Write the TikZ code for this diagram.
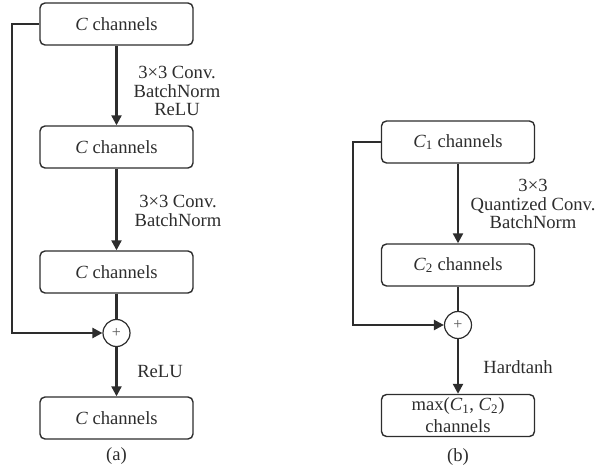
\documentclass[tikz,border=0pt]{standalone}
\usepackage{fontspec}
\setmainfont{Liberation Serif}
\usetikzlibrary{arrows.meta}
\definecolor{ink}{RGB}{45,45,45}
\begin{document}
\begin{tikzpicture}[x=1pt,y=-1pt,
  txt/.style={font=\fontsize{18.6}{18.5}\selectfont, text=ink, inner sep=0pt, align=center},
  chbox/.style={txt, draw=ink, line width=1.4pt, rounded corners=5pt,
    minimum width=153pt, minimum height=42pt},
  sumnode/.style={circle, draw=ink, line width=1.2pt, minimum size=27pt, inner sep=0pt,
    font=\fontsize{16}{16}\selectfont, text=ink!80},
  flow/.style={draw=ink, line width=2.3pt, -{Triangle[length=10pt,width=10pt]}},
  link/.style={draw=ink, line width=2.3pt}
]
\useasboundingbox (0,0) rectangle (597,473);

% ---------- (a) residual block ----------
\node[chbox] (a1) at (116.5,24)  {\textit{C} channels};
\node[chbox] (a2) at (116.5,147) {\textit{C} channels};
\node[chbox] (a3) at (116.5,272) {\textit{C} channels};
\node[sumnode] (pa) at (116.5,333) {+};
\node[chbox] (a4) at (116.5,418) {\textit{C} channels};
\coordinate (ka) at (12,24);

\draw[flow] (a1) -- (a2);
\draw[flow] (a2) -- (a3);
\draw[link] (a3) -- (pa);
\draw[flow] (a1.west) -- (ka) |- (pa.west);
\draw[flow] (pa) -- (a4);

\node[txt] (la1) at (177,91)  {3×3 Conv.\\BatchNorm\\ReLU};
\node[txt] (la2) at (178,211) {3×3 Conv.\\BatchNorm};
\node[txt] (la3) at (160,372) {ReLU};
\node[txt] (capa) at (116.5,456) {(a)};

% ---------- (b) binarized block ----------
\node[chbox] (b1) at (458,142) {\textit{C}\textsubscript{1} channels};
\node[chbox] (b2) at (458,265) {\textit{C}\textsubscript{2} channels};
\node[sumnode] (pb) at (458,325) {+};
\node[chbox, font=\fontsize{18.6}{22}\selectfont] (b4) at (458,415.5)
  {max(\textit{C}\textsubscript{1}, \textit{C}\textsubscript{2})\\channels};
\coordinate (kb) at (353,142);

\draw[flow] (b1) -- (b2);
\draw[link] (b2) -- (pb);
\draw[flow] (b1.west) -- (kb) |- (pb.west);
\draw[flow] (pb) -- (b4);

\node[txt] (lb1) at (533,204) {3×3\\Quantized Conv.\\BatchNorm};
\node[txt] (lb2) at (518,367) {Hardtanh};
\node[txt] (capb) at (458,457) {(b)};
\end{tikzpicture}
\end{document}
